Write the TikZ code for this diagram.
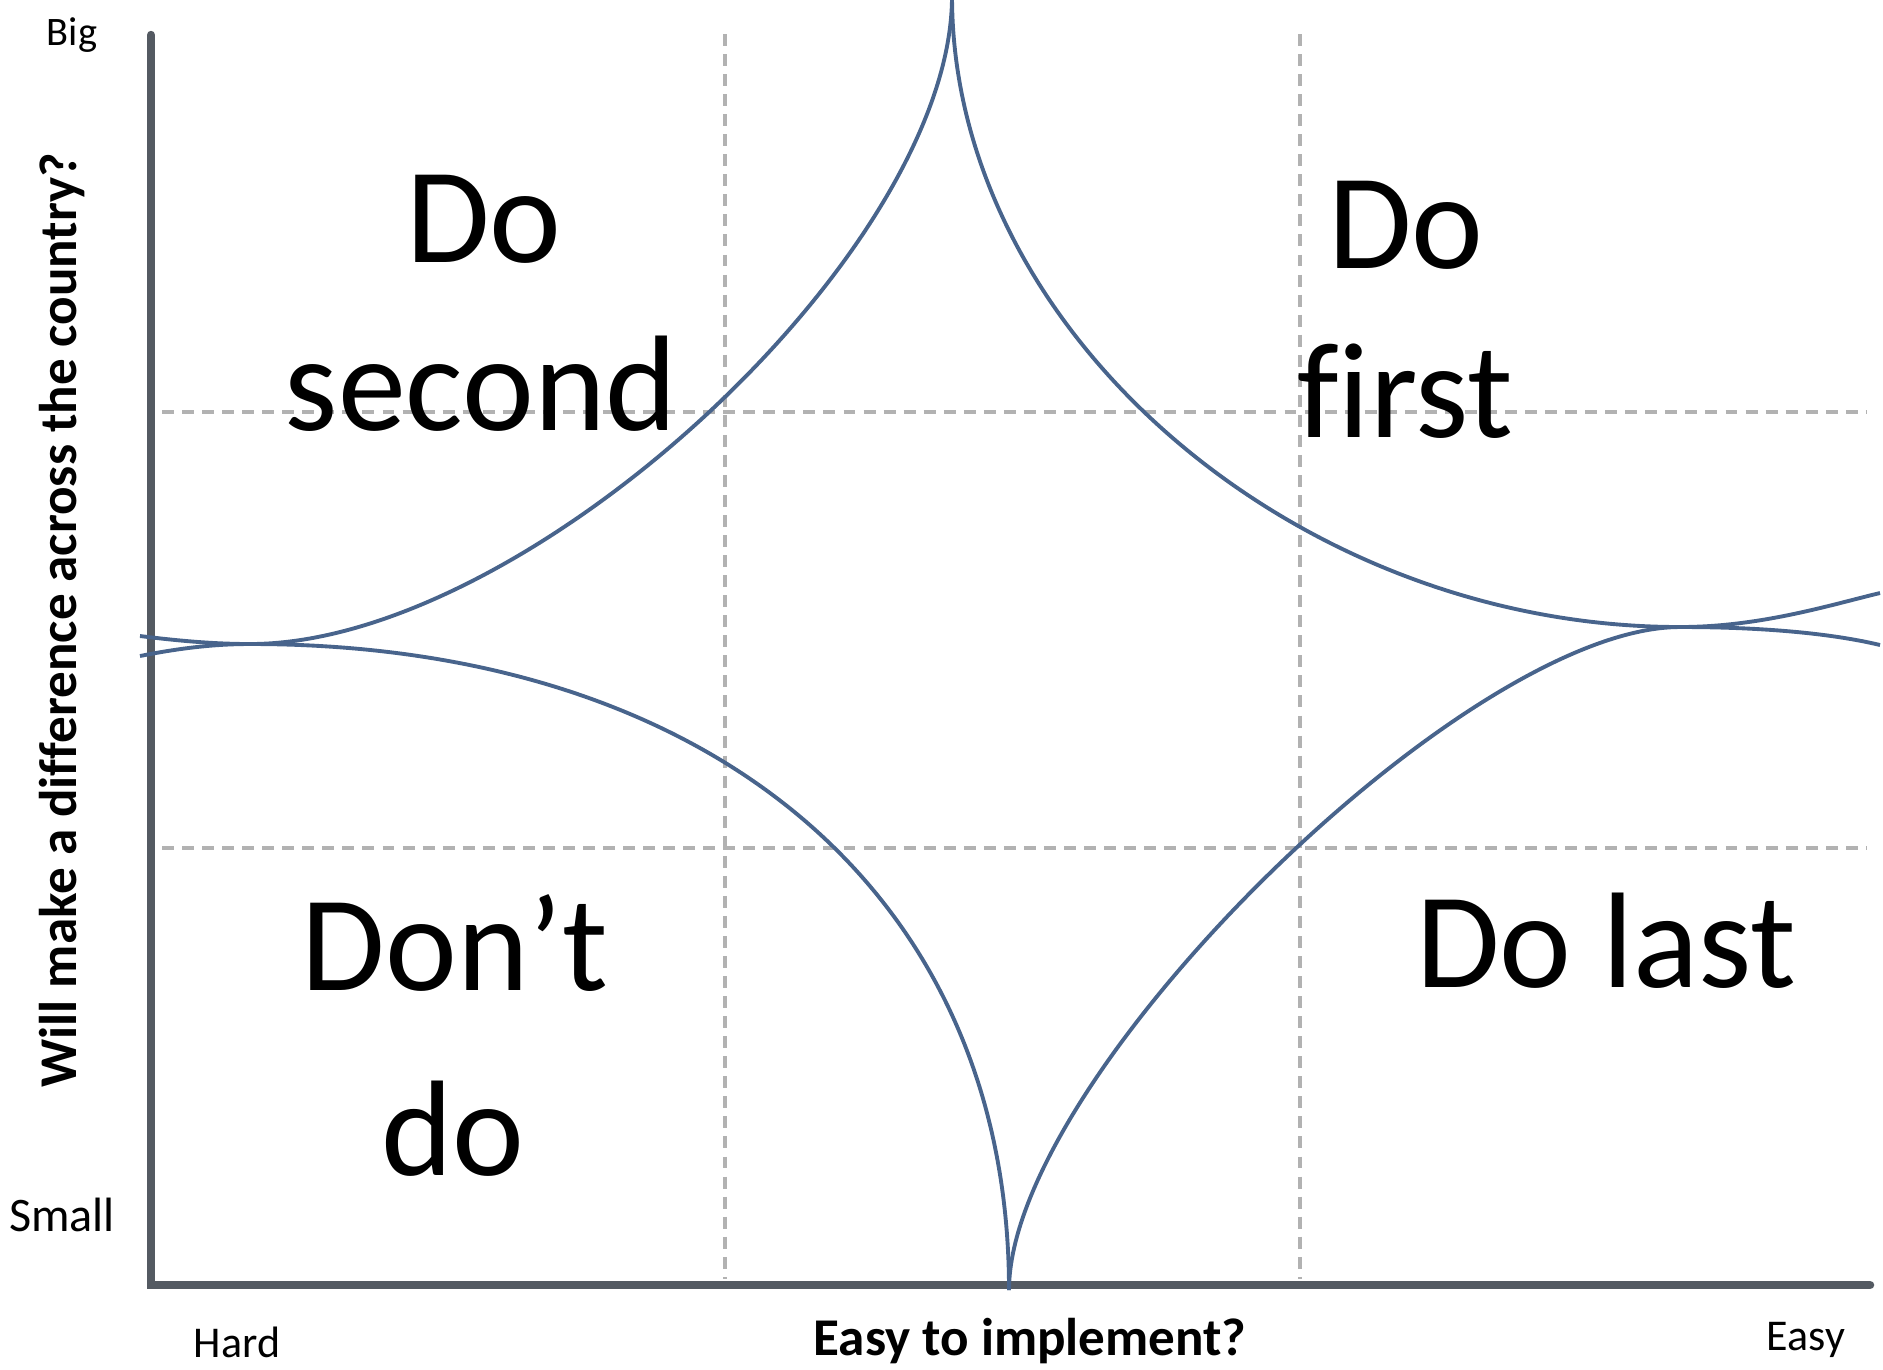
\documentclass[tikz,border=0pt]{standalone}
\usepackage{fontspec}
\setmainfont{Carlito}[Ligatures=NoCommon]
\usetikzlibrary{positioning}
\definecolor{axisgray}{RGB}{84,90,98}
\definecolor{gridgray}{RGB}{178,178,178}
\definecolor{curveblue}{RGB}{72,100,140}

\begin{document}
\begin{tikzpicture}[
  x=0.01cm,y=-0.01cm,
  axis/.style={axisgray,line width=2.4pt,line cap=round},
  grid/.style={gridgray,line width=1.4pt,dash pattern=on 3.4pt off 2.3pt},
  curve/.style={curveblue,line width=1.1pt},
  quad/.style={anchor=base,inner sep=0pt,font=\fontsize{38.7}{46}\selectfont},
  tick/.style={anchor=base,inner sep=0pt},
  title/.style={anchor=base,inner sep=0pt,font=\fontsize{15.1}{18}\selectfont\bfseries}
]
\useasboundingbox (0,0) rectangle (1883,1369);
\clip (0,0) rectangle (1883,1369);

% dashed grid
\foreach \gx in {725,1300} \draw[grid] (\gx,34) -- (\gx,1279);
\foreach \gy in {412,848} \draw[grid] (162,\gy) -- (1867,\gy);

% axes
\coordinate (top) at (151,35);
\coordinate (orig) at (151,1285);
\coordinate (end) at (1870,1285);
\draw[axis] (top) -- (orig) -- (end);

% star-shaped boundary
\coordinate (T) at (952,-4);
\coordinate (L) at (250,644);
\coordinate (B) at (1009,1290);
\coordinate (R) at (1680,627);
\draw[curve] (140,636) .. controls (180,641) and (215,644) .. (L)
  .. controls (527,644) and (952,252) .. (T);
\draw[curve] (T) .. controls (952,330) and (1294,627) .. (R)
  .. controls (1760,627) and (1830,605) .. (1880,593);
\draw[curve] (1880,645) .. controls (1830,633) and (1760,627) .. (R)
  .. controls (1465,627) and (1009,1078) .. (B);
\draw[curve] (B) .. controls (1009,896) and (713,644) .. (L)
  .. controls (215,644) and (180,648) .. (140,656);

% quadrant labels
\node[quad] (second1) at (484,262) {Do};
\node[quad] (second2) at (481,430) {second};
\node[quad] (first1) at (1406,268) {Do};
\node[quad] (first2) at (1405,437) {first};
\node[quad] (dont1) at (455,990) {Don’t};
\node[quad] (dont2) at (453,1175) {do};
\node[quad] (last) at (1606,987) {Do last};

% axis labels
\node[tick,font=\fontsize{11.5}{14}\selectfont] (big) at (72,45) {Big};
\node[tick,font=\fontsize{13.7}{16}\selectfont] (small) at (62,1231) {Small};
\node[tick,font=\fontsize{12.5}{15}\selectfont] (hard) at (237,1357) {Hard};
\node[tick,font=\fontsize{12.5}{15}\selectfont] (easy) at (1806,1350) {Easy};
\node[title] (xlab) at (1030,1355) {Easy to implement?};
\node[title,rotate=90] (ylab) at (76,620) {Will make a difference across the country?};
\end{tikzpicture}
\end{document}
